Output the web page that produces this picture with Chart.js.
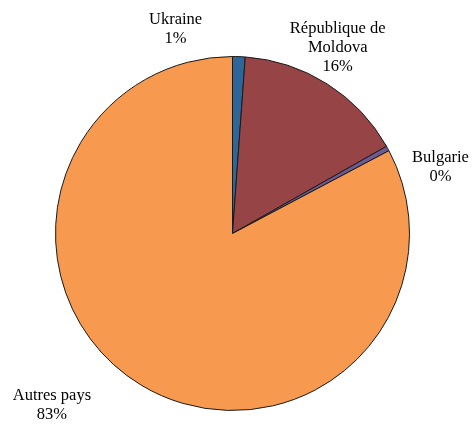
<!DOCTYPE html>
<html>
<head>
<meta charset="utf-8">
<script src="https://cdn.jsdelivr.net/npm/chart.js@4"></script>
<style>
  html, body { margin: 0; padding: 0; background: #fff; }
  #wrap { width: 475px; height: 425px; }
</style>
</head>
<body>
<div id="wrap"><canvas id="pie" width="475" height="425"></canvas></div>
<script>
const labels = ["Ukraine", "République de Moldova", "Bulgarie", "Autres pays"];
const labelLines = [["Ukraine"], ["République de", "Moldova"], ["Bulgarie"], ["Autres pays"]];
const shares = [1.15, 15.65, 0.45, 82.75];
const sliceColors = ["#2f6699", "#974446", "#6d5a93", "#f7994f"];
// nudge for each label away from the point just outside its slice
const labelNudge = [[-64, -9], [1, -21], [37, 27], [-80, 5]];

const ctx = document.getElementById("pie").getContext("2d");

const outsideLabels = {
  id: "outsideLabels",
  afterDatasetsDraw(chart) {
    const c = chart.ctx;
    const meta = chart.getDatasetMeta(0);
    const total = shares.reduce((a, b) => a + b, 0);
    c.save();
    c.font = "16.5px 'Liberation Serif', 'Times New Roman', serif";
    c.fillStyle = "#000";
    c.textAlign = "center";
    c.textBaseline = "middle";
    meta.data.forEach((arc, i) => {
      const p = arc.getProps(["x", "y", "startAngle", "endAngle", "outerRadius"], true);
      const mid = (p.startAngle + p.endAngle) / 2;
      const r = p.outerRadius + 18;
      const x = p.x + Math.cos(mid) * r + labelNudge[i][0];
      const y = p.y + Math.sin(mid) * r + labelNudge[i][1];
      const lines = labelLines[i].concat([Math.round(shares[i] / total * 100) + "%"]);
      const lh = 19;
      const y0 = y - (lines.length - 1) * lh / 2;
      lines.forEach((t, k) => c.fillText(t, x, y0 + k * lh));
    });
    c.restore();
  }
};

new Chart(ctx, {
  type: "pie",
  data: {
    labels: labels,
    datasets: [{
      data: shares,
      backgroundColor: sliceColors,
      borderColor: "#1a1a1a",
      borderWidth: 1
    }]
  },
  options: {
    responsive: false,
    animation: false,
    layout: { padding: { top: 56, bottom: 14, left: 55, right: 65 } },
    plugins: {
      legend: { display: false },
      tooltip: { enabled: false }
    }
  },
  plugins: [outsideLabels]
});
</script>
</body>
</html>
